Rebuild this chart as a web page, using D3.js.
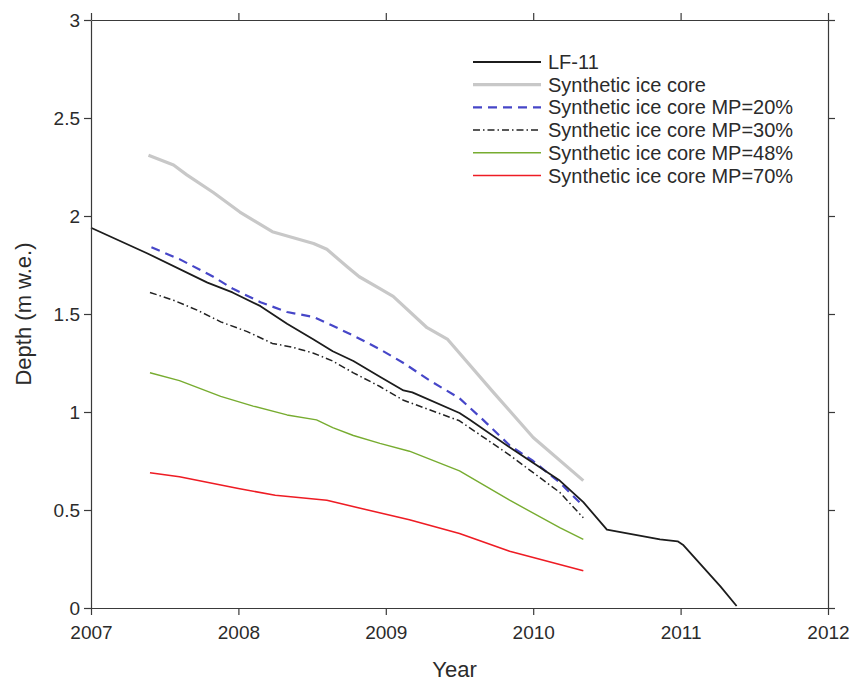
<!DOCTYPE html>
<html>
<head>
<meta charset="utf-8">
<script src="https://cdn.jsdelivr.net/npm/d3@7"></script>
<style>
  html, body { margin: 0; padding: 0; background: #fff; }
  svg { display: block; font-family: "Liberation Sans", Arial, Helvetica, sans-serif; }
</style>
</head>
<body>
<svg id="chart" width="857" height="686"></svg>
<script>
// Depth of dated layers (m w.e.) versus year: LF-11 core and synthetic cores
const lf11Year  = [2007.00, 2007.38, 2007.79, 2007.96, 2008.15, 2008.33, 2008.51, 2008.64, 2008.78, 2008.96, 2009.12, 2009.18, 2009.50, 2009.57, 2009.84, 2010.18, 2010.34, 2010.50, 2010.86, 2010.98, 2011.02, 2011.27, 2011.38];
const lf11Depth = [1.94, 1.81, 1.66, 1.61, 1.54, 1.45, 1.37, 1.31, 1.26, 1.18, 1.11, 1.10, 0.995, 0.96, 0.82, 0.65, 0.54, 0.40, 0.35, 0.34, 0.32, 0.11, 0.01];

const synYear  = [2007.39, 2007.56, 2007.65, 2007.83, 2008.01, 2008.23, 2008.51, 2008.60, 2008.74, 2008.82, 2008.96, 2009.05, 2009.28, 2009.42, 2009.73, 2010.00, 2010.34];
const synDepth = [2.31, 2.26, 2.21, 2.12, 2.02, 1.92, 1.86, 1.83, 1.74, 1.69, 1.63, 1.59, 1.43, 1.37, 1.10, 0.87, 0.65];

const mp20Year  = [2007.41, 2007.60, 2007.83, 2007.96, 2008.15, 2008.33, 2008.51, 2008.64, 2008.78, 2008.96, 2009.12, 2009.30, 2009.50, 2009.66, 2009.84, 2010.00, 2010.18, 2010.34];
const mp20Depth = [1.84, 1.78, 1.69, 1.63, 1.56, 1.51, 1.485, 1.44, 1.39, 1.32, 1.25, 1.16, 1.07, 0.96, 0.83, 0.75, 0.64, 0.52];

const mp30Year  = [2007.40, 2007.56, 2007.72, 2007.88, 2008.06, 2008.23, 2008.37, 2008.51, 2008.64, 2008.78, 2008.96, 2009.12, 2009.50, 2009.84, 2010.18, 2010.34];
const mp30Depth = [1.61, 1.57, 1.52, 1.46, 1.41, 1.35, 1.33, 1.30, 1.26, 1.20, 1.13, 1.06, 0.955, 0.78, 0.59, 0.46];

const mp48Year  = [2007.40, 2007.60, 2007.88, 2008.10, 2008.33, 2008.53, 2008.64, 2008.78, 2008.96, 2009.16, 2009.50, 2009.84, 2010.18, 2010.34];
const mp48Depth = [1.20, 1.16, 1.08, 1.03, 0.985, 0.96, 0.92, 0.88, 0.84, 0.80, 0.70, 0.55, 0.41, 0.35];

const mp70Year  = [2007.40, 2007.60, 2008.00, 2008.25, 2008.60, 2008.82, 2009.16, 2009.50, 2009.84, 2010.34];
const mp70Depth = [0.69, 0.67, 0.61, 0.575, 0.55, 0.51, 0.45, 0.38, 0.29, 0.19];

const seriesNames = ["LF-11", "Synthetic ice core", "Synthetic ice core MP=20%", "Synthetic ice core MP=30%", "Synthetic ice core MP=48%", "Synthetic ice core MP=70%"];
const xTicks = [2007, 2008, 2009, 2010, 2011, 2012];
const yTicks = [0, 0.5, 1, 1.5, 2, 2.5, 3];
const xLabel = "Year";
const yLabel = "Depth (m w.e.)";

// line styles, in legend order
const styles = [
  { color: "#1c1c1c", width: 1.8, dash: null },
  { color: "#c8c8c8", width: 3.2, dash: null },
  { color: "#4646c8", width: 2.2, dash: "9,6" },
  { color: "#222222", width: 1.5, dash: "7,3,1.5,3" },
  { color: "#77ac30", width: 1.4, dash: null },
  { color: "#ee1c24", width: 1.6, dash: null }
];

const series = [
  [lf11Year, lf11Depth], [synYear, synDepth], [mp20Year, mp20Depth],
  [mp30Year, mp30Depth], [mp48Year, mp48Depth], [mp70Year, mp70Depth]
].map(([xs, ys], i) => ({ name: seriesNames[i], style: styles[i], pts: xs.map((x, j) => [x, ys[j]]) }));

const margin = { left: 91, top: 20, right: 29, bottom: 78 };
const W = 857, H = 686;
const iw = W - margin.left - margin.right;
const ih = H - margin.top - margin.bottom;

const svg = d3.select("#chart");
const g = svg.append("g").attr("transform", `translate(${margin.left},${margin.top})`);

const x = d3.scaleLinear().domain([2007, 2012]).range([0, iw]);
const y = d3.scaleLinear().domain([0, 3]).range([ih, 0]);

const axisColor = "#3a3a3a";
const textColor = "#2b2b2b";
const tickLen = 7;

function styleAxis(sel, showText) {
  sel.select(".domain").attr("stroke", axisColor).attr("stroke-width", 1.2);
  sel.selectAll(".tick line").attr("stroke", axisColor).attr("stroke-width", 1.2);
  sel.selectAll(".tick text").attr("fill", textColor).style("display", showText ? null : "none");
}

// data lines (drawn under the box)
const line = d3.line().x(d => x(d[0])).y(d => y(d[1]));
const lineOrder = [1, 2, 3, 4, 5, 0];
lineOrder.forEach(i => {
  const s = series[i];
  g.append("path")
    .datum(s.pts)
    .attr("fill", "none")
    .attr("stroke", s.style.color)
    .attr("stroke-width", s.style.width)
    .attr("stroke-dasharray", s.style.dash)
    .attr("stroke-linejoin", "round")
    .attr("d", line);
});

// axes on all four sides, ticks pointing outward
const fmtY = d => d3.format("~g")(d);
g.append("g").attr("transform", `translate(0,${ih})`)
  .call(d3.axisBottom(x).tickValues(xTicks).tickFormat(d3.format("d")).tickSizeInner(tickLen).tickSizeOuter(0).tickPadding(11))
  .call(s => { styleAxis(s, true); s.selectAll(".tick text").attr("font-size", 19).attr("font-family", "Liberation Sans"); });
g.append("g")
  .call(d3.axisTop(x).tickValues(xTicks).tickSizeInner(tickLen).tickSizeOuter(0))
  .call(s => styleAxis(s, false));
g.append("g")
  .call(d3.axisLeft(y).tickValues(yTicks).tickFormat(fmtY).tickSizeInner(tickLen).tickSizeOuter(0).tickPadding(4))
  .call(s => { styleAxis(s, true); s.selectAll(".tick text").attr("font-size", 19).attr("font-family", "Liberation Sans"); });
g.append("g").attr("transform", `translate(${iw},0)`)
  .call(d3.axisRight(y).tickValues(yTicks).tickSizeInner(tickLen).tickSizeOuter(0))
  .call(s => styleAxis(s, false));

// axis titles
svg.append("text")
  .attr("x", margin.left + iw / 2 - 5).attr("y", 677)
  .attr("text-anchor", "middle").attr("font-size", 22).attr("fill", textColor)
  .text(xLabel);
svg.append("text")
  .attr("transform", `translate(31,${margin.top + ih / 2}) rotate(-90)`)
  .attr("text-anchor", "middle").attr("font-size", 22).attr("fill", textColor)
  .text(yLabel);

// legend
const legend = g.append("g").attr("transform", `translate(${473 - margin.left},${62 - margin.top})`);
series.forEach((s, i) => {
  const row = legend.append("g").attr("transform", `translate(0,${i * 22.7})`);
  row.append("line")
    .attr("x1", 0).attr("x2", 68).attr("y1", 0).attr("y2", 0)
    .attr("stroke", s.style.color).attr("stroke-width", s.style.width)
    .attr("stroke-dasharray", s.style.dash);
  row.append("text")
    .attr("x", 75).attr("y", 0).attr("dy", "0.35em")
    .attr("font-size", 20).attr("fill", textColor)
    .text(s.name);
});
</script>
</body>
</html>
